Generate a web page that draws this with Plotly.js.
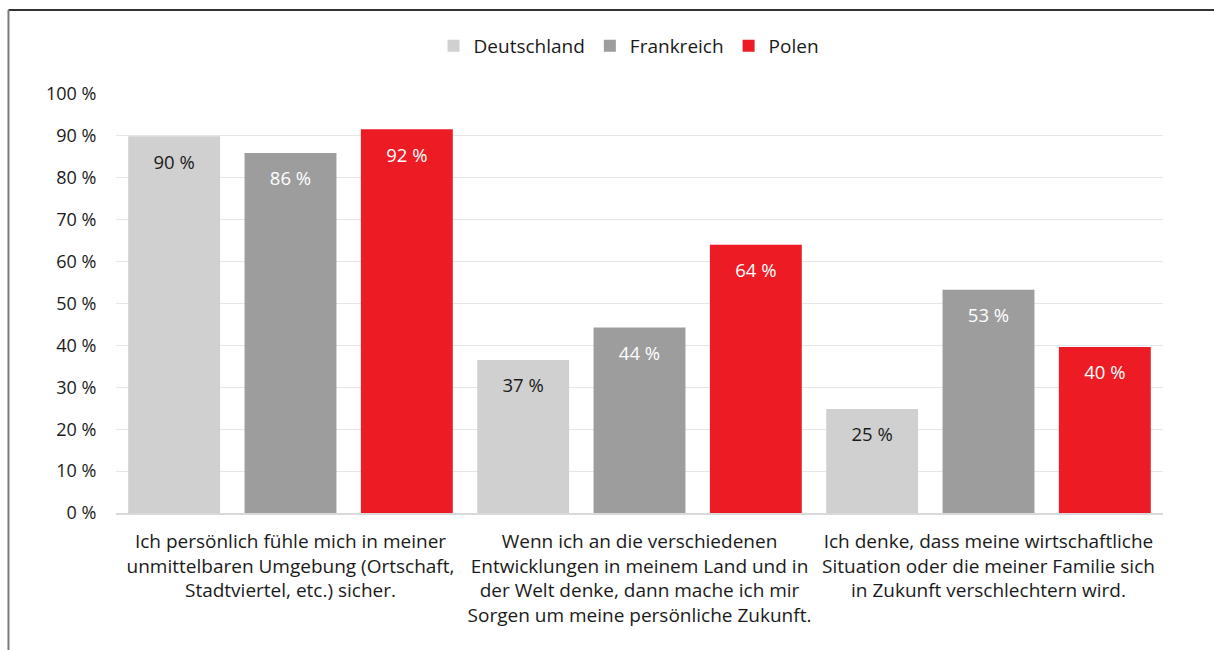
<!DOCTYPE html>
<html>
<head>
<meta charset="utf-8">
<script src="https://cdn.plot.ly/plotly-3.0.1.min.js"></script>
<style>
  html, body { margin: 0; padding: 0; background: #ffffff; }
  #chart { width: 1214px; height: 650px; }
</style>
</head>
<body>
<div id="chart"></div>
<script>
const categories = [
  "Ich persönlich fühle mich in meiner<br>unmittelbaren Umgebung (Ortschaft,<br>Stadtviertel, etc.) sicher.",
  "Wenn ich an die verschiedenen<br>Entwicklungen in meinem Land und in<br>der Welt denke, dann mache ich mir<br>Sorgen um meine persönliche Zukunft.",
  "Ich denke, dass meine wirtschaftliche<br>Situation oder die meiner Familie sich<br>in Zukunft verschlechtern wird."
];
const seriesNames = ["Deutschland", "Frankreich", "Polen"];
const deutschland = [89.9, 36.5, 24.8];
const frankreich = [85.9, 44.3, 53.3];
const polen = [91.6, 64.0, 39.6];
const labelsDeutschland = ["90 %", "37 %", "25 %"];
const labelsFrankreich = ["86 %", "44 %", "53 %"];
const labelsPolen = ["92 %", "64 %", "40 %"];
const yTickValues = [0, 10, 20, 30, 40, 50, 60, 70, 80, 90, 100];
const yTickLabels = ["0 %", "10 %", "20 %", "30 %", "40 %", "50 %", "60 %", "70 %", "80 %", "90 %", "100 %"];

const colors = ["#d0d0d0", "#9d9d9d", "#ed1c24"];
const labelColors = ["#1a1a1a", "#ffffff", "#ffffff"];
const values = [deutschland, frankreich, polen];
const labels = [labelsDeutschland, labelsFrankreich, labelsPolen];
const FONT = "'Open Sans', 'Noto Sans', sans-serif";

const traces = [];
seriesNames.forEach((name, i) => {
  traces.push({
    type: "bar",
    name: name,
    x: categories,
    y: values[i],
    marker: { color: colors[i] },
    offsetgroup: String(i),
    hoverinfo: "skip"
  });
});
seriesNames.forEach((name, i) => {
  traces.push({
    type: "scatter",
    mode: "markers+text",
    x: categories,
    y: values[i],
    text: labels[i],
    textposition: "bottom center",
    textfont: { family: FONT, size: 18.5, color: labelColors[i] },
    marker: { size: 28, opacity: 0 },
    offsetgroup: String(i),
    showlegend: false,
    hoverinfo: "skip",
    cliponaxis: false
  });
});

const layout = {
  width: 1214,
  height: 650,
  margin: { l: 116, r: 51, t: 94, b: 137 },
  paper_bgcolor: "#ffffff",
  plot_bgcolor: "#ffffff",
  font: { family: FONT, color: "#1a1a1a", size: 18 },
  barmode: "group",
  bargap: 0,
  bargroupgap: 0.21,
  scattermode: "group",
  scattergap: 0,
  showlegend: true,
  legend: {
    orientation: "h",
    x: 0.49, xanchor: "center",
    y: 1.115, yanchor: "middle",
    font: { family: FONT, size: 19, color: "#1a1a1a" },
    itemwidth: 30,
    traceorder: "normal"
  },
  xaxis: {
    type: "category",
    tickfont: { family: FONT, size: 19, color: "#1a1a1a" },
    showgrid: false,
    showline: true,
    linecolor: "#d9d9d9",
    linewidth: 2,
    ticks: "outside",
    ticklen: 10,
    tickcolor: "rgba(0,0,0,0)",
    fixedrange: true
  },
  yaxis: {
    range: [0, 100],
    tickmode: "array",
    tickvals: yTickValues,
    ticktext: yTickLabels,
    tickfont: { family: FONT, size: 18, color: "#1a1a1a" },
    showgrid: true,
    gridcolor: "#e6e6e6",
    gridwidth: 1,
    zeroline: false,
    showline: false,
    ticks: "outside",
    ticklen: 15,
    tickcolor: "rgba(0,0,0,0)",
    fixedrange: true
  },
  shapes: [
    { type: "line", xref: "paper", yref: "paper", x0: -0.1027, x1: 1.06, y0: 1.2005, y1: 1.2005,
      line: { color: "#333333", width: 2 } },
    { type: "line", xref: "paper", yref: "paper", x0: -0.1027, x1: -0.1027, y0: 1.2005, y1: -0.33,
      line: { color: "#7a7a7a", width: 2 } }
  ]
};

Plotly.newPlot("chart", traces, layout, { displayModeBar: false, staticPlot: true });
</script>
</body>
</html>
